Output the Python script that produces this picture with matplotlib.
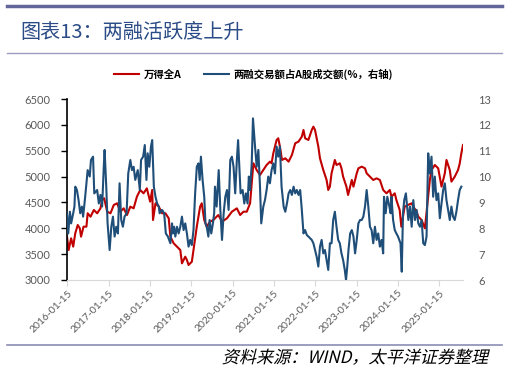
import pandas as pd
import matplotlib.pyplot as plt
import matplotlib.dates as mdates
from matplotlib.textpath import TextPath
from matplotlib.patches import PathPatch
from matplotlib.font_manager import FontProperties
from matplotlib.transforms import Affine2D, IdentityTransform

plt.rcParams['font.family'] = ['Noto Sans CJK SC', 'DejaVu Sans']

# 万得全A (left axis), dates as decimal years
red_t = [2016.03, 2016.07, 2016.13, 2016.18, 2016.23, 2016.29, 2016.34, 2016.37, 2016.43, 2016.50,
         2016.53, 2016.60, 2016.68, 2016.76, 2016.84, 2016.88, 2016.93, 2017.00, 2017.08, 2017.16,
         2017.24, 2017.32, 2017.40, 2017.48, 2017.56, 2017.64, 2017.72, 2017.80, 2017.88, 2017.96,
         2018.00, 2018.04, 2018.09, 2018.11, 2018.17, 2018.25, 2018.33, 2018.41, 2018.49, 2018.53,
         2018.61, 2018.69, 2018.77, 2018.81, 2018.89, 2018.93, 2018.97, 2019.05, 2019.09, 2019.17,
         2019.25, 2019.29, 2019.35, 2019.41, 2019.49, 2019.57, 2019.69, 2019.78, 2019.90, 2020.02,
         2020.14, 2020.22, 2020.30, 2020.38, 2020.46, 2020.54, 2020.62, 2020.70, 2020.78, 2020.86,
         2020.94, 2020.98, 2021.02, 2021.10, 2021.14, 2021.18, 2021.23, 2021.31, 2021.39, 2021.47,
         2021.55, 2021.63, 2021.71, 2021.75, 2021.79, 2021.87, 2021.95, 2021.99, 2022.03, 2022.11,
         2022.15, 2022.23, 2022.31, 2022.35, 2022.39, 2022.43, 2022.51, 2022.55, 2022.63, 2022.67,
         2022.71, 2022.79, 2022.83, 2022.92, 2022.96, 2023.04, 2023.08, 2023.16, 2023.24, 2023.28,
         2023.36, 2023.44, 2023.52, 2023.60, 2023.68, 2023.76, 2023.84, 2023.88, 2023.96, 2024.00,
         2024.08, 2024.12, 2024.20, 2024.28, 2024.37, 2024.41, 2024.49, 2024.53, 2024.61, 2024.69,
         2024.77, 2024.81, 2024.85, 2024.93, 2025.01, 2025.09, 2025.17, 2025.21, 2025.29, 2025.33,
         2025.41, 2025.49, 2025.53, 2025.57, 2025.61]
red_v = [3838, 3580, 3806, 3645, 3903, 4064, 3999, 3838, 4031, 4031,
         4290, 4225, 4354, 4290, 4386, 4547, 4580, 4321, 4290, 4451,
         4483, 4321, 4386, 4257, 4418, 4386, 4612, 4741, 4676, 4773,
         4644, 4515, 4741, 4160, 4483, 4418, 4290, 4290, 4193, 3838,
         3709, 3645, 3580, 3322, 3451, 3387, 3290, 3354, 3580, 4031,
         4418, 4483, 4160, 4031, 4128, 4160, 4257, 4128, 4193, 4321,
         4386, 4257, 4321, 4321, 4483, 5257, 5127, 5031, 5127, 5224,
         5289, 5257, 5450, 5708, 5740, 5579, 5321, 5353, 5289, 5418,
         5644, 5676, 5772, 5901, 5740, 5708, 5901, 5965, 5901, 5579,
         5353, 5127, 4934, 4741, 4805, 5063, 5321, 5224, 5257, 5160,
         4998, 4805, 4644, 4934, 4805, 5063, 5160, 5192, 5160, 5063,
         4998, 4934, 4966, 4934, 4741, 4676, 4741, 4612, 4676, 4547,
         4354, 4031, 4418, 4451, 4483, 4418, 4321, 4225, 4160, 3999,
         4612, 4934, 5127, 5224, 5160, 4805, 5063, 5321, 5127, 4902,
         4998, 5127, 5250, 5450, 5611]

# 两融交易额占A股成交额 (%, right axis)
blue_t = [2016.03, 2016.06, 2016.10, 2016.13, 2016.18, 2016.21, 2016.23, 2016.27, 2016.31, 2016.35,
          2016.39, 2016.42, 2016.47, 2016.53, 2016.58, 2016.61, 2016.66, 2016.69, 2016.76, 2016.80,
          2016.84, 2016.88, 2016.92, 2016.94, 2016.98, 2017.01, 2017.06, 2017.10, 2017.14, 2017.18,
          2017.22, 2017.26, 2017.30, 2017.34, 2017.38, 2017.42, 2017.47, 2017.51, 2017.56, 2017.60,
          2017.64, 2017.68, 2017.74, 2017.79, 2017.82, 2017.87, 2017.91, 2017.95, 2017.98, 2018.02,
          2018.06, 2018.09, 2018.13, 2018.17, 2018.21, 2018.25, 2018.27, 2018.33, 2018.38, 2018.42,
          2018.47, 2018.53, 2018.57, 2018.59, 2018.62, 2018.65, 2018.69, 2018.73, 2018.77, 2018.81,
          2018.85, 2018.89, 2018.93, 2018.97, 2019.01, 2019.05, 2019.09, 2019.13, 2019.17, 2019.21,
          2019.24, 2019.27, 2019.31, 2019.35, 2019.38, 2019.41, 2019.45, 2019.48, 2019.52, 2019.56,
          2019.59, 2019.61, 2019.65, 2019.70, 2019.74, 2019.78, 2019.82, 2019.86, 2019.90, 2019.94,
          2019.98, 2020.02, 2020.06, 2020.10, 2020.14, 2020.17, 2020.20, 2020.23, 2020.28, 2020.32,
          2020.36, 2020.40, 2020.43, 2020.46, 2020.50, 2020.53, 2020.58, 2020.62, 2020.66, 2020.70,
          2020.73, 2020.78, 2020.82, 2020.86, 2020.90, 2020.94, 2020.98, 2021.02, 2021.06, 2021.10,
          2021.14, 2021.18, 2021.22, 2021.27, 2021.31, 2021.35, 2021.39, 2021.43, 2021.47, 2021.51,
          2021.55, 2021.59, 2021.63, 2021.67, 2021.71, 2021.75, 2021.79, 2021.83, 2021.87, 2021.95,
          2021.99, 2022.03, 2022.07, 2022.11, 2022.15, 2022.19, 2022.23, 2022.27, 2022.31, 2022.35,
          2022.39, 2022.43, 2022.47, 2022.51, 2022.55, 2022.59, 2022.63, 2022.67, 2022.71, 2022.75,
          2022.78, 2022.81, 2022.84, 2022.88, 2022.92, 2022.96, 2023.00, 2023.04, 2023.08, 2023.12,
          2023.16, 2023.20, 2023.24, 2023.28, 2023.32, 2023.36, 2023.40, 2023.44, 2023.48, 2023.52,
          2023.56, 2023.60, 2023.64, 2023.68, 2023.70, 2023.74, 2023.78, 2023.83, 2023.86, 2023.88,
          2023.92, 2023.96, 2024.00, 2024.04, 2024.10, 2024.13, 2024.16, 2024.19, 2024.23, 2024.26,
          2024.29, 2024.33, 2024.37, 2024.41, 2024.45, 2024.49, 2024.53, 2024.57, 2024.61, 2024.65,
          2024.69, 2024.73, 2024.77, 2024.81, 2024.85, 2024.89, 2024.93, 2024.97, 2025.01, 2025.05,
          2025.09, 2025.13, 2025.17, 2025.21, 2025.25, 2025.29, 2025.33, 2025.37, 2025.41, 2025.45,
          2025.49, 2025.53, 2025.57]
blue_v = [8.58, 7.80, 8.64, 8.19, 8.58, 8.84, 9.61, 9.48, 9.09, 8.58,
          8.84, 8.45, 9.22, 10.25, 10.00, 10.64, 10.77, 9.35, 9.48, 8.96,
          9.29, 8.84, 10.38, 11.03, 9.61, 8.19, 7.16, 8.06, 8.45, 7.68,
          8.06, 7.80, 9.74, 8.32, 8.06, 8.45, 8.58, 10.12, 10.64, 10.25,
          10.38, 9.87, 10.25, 9.48, 10.64, 10.77, 11.22, 9.87, 10.90, 10.38,
          11.16, 11.41, 9.61, 9.22, 8.96, 8.84, 8.58, 8.71, 8.58, 7.80,
          7.68, 7.42, 8.19, 7.80, 8.06, 7.68, 8.06, 7.80, 8.06, 8.45,
          7.93, 8.19, 7.80, 7.29, 7.55, 7.35, 7.93, 9.35, 10.38, 10.51,
          9.87, 10.77, 9.87, 9.22, 8.19, 8.06, 7.68, 8.32, 7.80, 8.19,
          8.58, 9.61, 8.84, 10.25, 8.71, 7.55, 8.58, 9.22, 9.48, 8.71,
          10.64, 10.77, 10.38, 9.35, 10.64, 11.41, 10.38, 9.35, 9.48, 8.96,
          9.35, 8.96, 10.00, 9.48, 10.51, 12.25, 11.16, 10.38, 11.03, 9.61,
          8.19, 8.84, 9.09, 9.48, 10.00, 9.74, 10.25, 10.51, 10.12, 11.16,
          10.77, 11.16, 9.61, 8.84, 8.64, 8.96, 9.35, 9.48, 9.29, 9.61,
          9.35, 9.48, 9.29, 9.48, 8.71, 7.80, 7.93, 7.74, 7.68, 7.55,
          7.42, 7.16, 6.90, 6.52, 7.29, 7.55, 7.03, 7.16, 6.77, 6.39,
          7.42, 7.42, 8.32, 8.64, 8.06, 7.55, 7.42, 7.03, 6.77, 6.39,
          6.00, 6.52, 7.16, 7.80, 7.93, 7.68, 7.03, 7.55, 8.19, 8.32,
          8.32, 8.45, 8.84, 9.48, 8.84, 8.06, 7.93, 7.42, 8.06, 7.55,
          7.80, 7.29, 7.55, 7.03, 9.22, 8.58, 9.22, 8.84, 8.58, 9.22,
          8.32, 7.93, 7.80, 7.68, 7.42, 6.32, 8.58, 9.09, 9.35, 8.84,
          8.32, 8.84, 8.06, 9.09, 8.32, 8.71, 8.19, 8.06, 8.32, 7.42,
          7.35, 7.68, 10.90, 10.12, 10.77, 9.22, 10.00, 9.09, 9.35, 8.39,
          8.96, 9.48, 9.74, 9.09, 8.71, 8.32, 8.84, 8.45, 8.32, 8.64,
          9.09, 9.48, 9.61]

tick_years = list(range(2016, 2026))


def to_date(y):
    yr = int(y)
    return pd.Timestamp(f"{yr}-01-01") + pd.Timedelta(days=(y - yr) * 365.25)


red_d = [to_date(y) for y in red_t]
blue_d = [to_date(y) for y in blue_t]

W, H = 507, 375
fig = plt.figure(figsize=(W / 100, H / 100), dpi=100)

# header / footer rules
fig.add_artist(plt.Line2D([7/W, 502/W], [1 - 6/H, 1 - 6/H], color='#62669A', lw=2.5))
fig.add_artist(plt.Line2D([7/W, 502/W], [1 - 53/H, 1 - 53/H], color='#9A9DC0', lw=1))
fig.add_artist(plt.Line2D([7/W, 502/W], [1 - 345/H, 1 - 345/H], color='#8A8DB5', lw=1.2))
fig.text(20/W, 1 - 32/H, '图表13：两融活跃度上升', fontsize=14.5, color='#2B4C86',
         va='center', ha='left')

# slanted source note (CJK font has no italic face)
src = '资料来源：WIND，太平洋证券整理'
tp = TextPath((0, 0), src, size=12.3, prop=FontProperties(family='Noto Sans CJK SC'))
ext = tp.get_extents()
sk = Affine2D().skew_deg(14, 0).scale(100 / 72)
w_px = sk.transform_path(tp).get_extents().x1
tr = sk + Affine2D().translate(490 - w_px, H - 363)
fig.add_artist(PathPatch(tp, transform=tr + IdentityTransform(), color='black', lw=0))

ax = fig.add_axes([67/W, 1 - 280/H, (463 - 67)/W, 181/H])
ax2 = ax.twinx()

l1, = ax.plot(red_d, red_v, color='#C00000', lw=1.5, label='万得全A')
l2, = ax2.plot(blue_d, blue_v, color='#1F4E79', lw=1.5, label='两融交易额占A股成交额(%，右轴)')

ax.set_xlim(red_d[0], red_d[-1])
ax.set_ylim(3000, 6500)
ax.set_yticks(range(3000, 6501, 500))
ax2.set_ylim(6, 13)
ax2.set_yticks(range(6, 14))

ax.set_xticks([pd.Timestamp(f"{y}-01-15") for y in tick_years])
ax.xaxis.set_major_formatter(mdates.DateFormatter('%Y-%m-%d'))
for lab in ax.get_xticklabels():
    lab.set_rotation(45)
    lab.set_ha('right')
    lab.set_rotation_mode('anchor')

for a in (ax, ax2):
    for s in a.spines.values():
        s.set_visible(False)
ax.spines['left'].set_visible(True)
ax.spines['left'].set_color('black')
ax.spines['left'].set_linewidth(1.2)
ax.spines['bottom'].set_visible(True)
ax.spines['bottom'].set_color('#D9D9D9')

ax.tick_params(axis='y', labelsize=8, colors='black', labelcolor='#595959', length=4, width=1, pad=8)
ax.tick_params(axis='x', labelsize=7.5, colors='#D9D9D9', labelcolor='#595959', length=4, pad=2)
ax2.tick_params(axis='y', labelsize=8, labelcolor='#595959', length=0, pad=11)
for lab in ax.get_xticklabels() + ax.get_yticklabels() + ax2.get_yticklabels():
    lab.set_family(['Lato', 'DejaVu Sans'])

fig.legend([l1, l2], [l1.get_label(), l2.get_label()], loc='center', ncol=2,
           bbox_to_anchor=(0.5, 1 - 74/H), frameon=False,
           handlelength=2.4, columnspacing=2.2, handletextpad=0.4,
           prop={'family': 'Noto Sans CJK SC', 'weight': 'bold', 'size': 7.5})

fig.savefig('out.png', dpi=100)
